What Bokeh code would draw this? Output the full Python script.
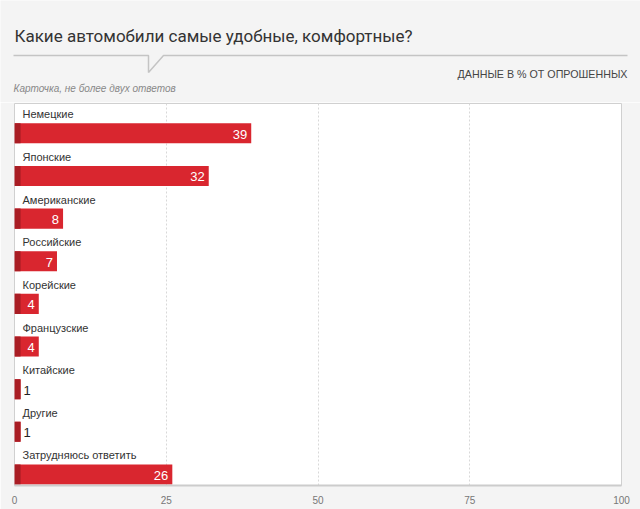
from bokeh.plotting import figure
from bokeh.models import Range1d, FixedTicker, ColumnDataSource
from bokeh.layouts import column
from bokeh.core.properties import value
from bokeh.embed import file_html
from bokeh.resources import INLINE

# ---- data ----
title_text = "Какие автомобили самые удобные, комфортные?"
unit_text = "ДАННЫЕ В % ОТ ОПРОШЕННЫХ"
note_text = "Карточка, не более двух ответов"
categories = ["Немецкие", "Японские", "Американские", "Российские", "Корейские",
              "Французские", "Китайские", "Другие", "Затрудняюсь ответить"]
values = [39, 32, 8, 7, 4, 4, 1, 1, 26]
x_ticks = [0, 25, 50, 75, 100]

BG = "#f4f4f4"
RED = "#d9262f"
DARK = "#a91d24"
FONT = "Liberation Sans, Arial, sans-serif"

W = 640
HH = 102
BL, BR = 14, 19

# ---- header (data coords == page pixels) ----
h = figure(width=W, height=HH, x_range=Range1d(0, W), y_range=Range1d(HH, 0),
           x_axis_type=None, y_axis_type=None, toolbar_location=None,
           output_backend="svg", min_border=0, outline_line_color=None,
           background_fill_color=BG, border_fill_color=BG, frame_align=False)
h.grid.visible = False
h.text(x=[14], y=[35], text=[title_text], text_baseline="middle", text_align="left",
       text_font=value("Roboto, sans-serif"),
       text_font_size="17px", text_color="#333333")
h.line(x=[13, 148, 148, 163, 627], y=[55, 55, 72, 55, 55], line_color="#c4c4c4", line_width=1.5)
h.text(x=[627], y=[73], text=[unit_text], text_baseline="middle", text_align="right",
       text_font=value(FONT), text_font_size="10.7px", text_color="#444444")
h.text(x=[13], y=[88], text=[note_text], text_baseline="middle", text_align="left",
       text_font=value(FONT), text_font_size="10px", text_font_style="italic",
       text_color="#888888")

# ---- chart ----
n = len(categories)
ys = [i + 0.7 for i in range(n)]
dark_right = [min(v, 1) for v in values]
inside = [v >= 2 for v in values]
src = ColumnDataSource(dict(y=ys, v=values, d=dark_right, cat=categories))
src_in = ColumnDataSource(dict(y=[y for y, f in zip(ys, inside) if f],
                               v=[v for v, f in zip(values, inside) if f],
                               lab=[str(v) for v, f in zip(values, inside) if f]))
src_out = ColumnDataSource(dict(y=[y for y, f in zip(ys, inside) if not f],
                                v=[v for v, f in zip(values, inside) if not f],
                                lab=[str(v) for v, f in zip(values, inside) if not f]))

p = figure(width=W, height=509 - HH, x_range=Range1d(0, 100), y_range=Range1d(8.96, 0),
           toolbar_location=None, output_backend="svg",
           min_border_left=BL, min_border_right=BR, min_border_top=1, min_border_bottom=24,
           background_fill_color="white", border_fill_color=BG,
           outline_line_color="#d0d0d0", outline_line_width=1, frame_align=False)
p.yaxis.visible = False
p.ygrid.visible = False
p.xaxis.ticker = FixedTicker(ticks=x_ticks)
p.xgrid.ticker = FixedTicker(ticks=x_ticks)
p.xgrid.grid_line_color = "#d8d8d8"
p.xgrid.grid_line_dash = "2 2"
p.xaxis.axis_line_color = "#cccccc"
p.xaxis.axis_line_width = 2
p.xaxis.major_tick_line_color = None
p.xaxis.minor_tick_line_color = None
p.xaxis.major_label_standoff = 4
p.xaxis.major_label_text_font = FONT
p.xaxis.major_label_text_font_size = "10px"
p.xaxis.major_label_text_color = "#777777"

p.hbar(y="y", left=0, right="v", height=0.47, source=src, fill_color=RED, line_color=None)
p.hbar(y="y", left=0, right="d", height=0.47, source=src, fill_color=DARK, line_color=None)

p.text(x=0, y="y", text="cat", source=src, x_offset=8, y_offset=-19,
       text_baseline="middle", text_align="left", text_font=value(FONT),
       text_font_size="11px", text_color="#333333")
p.text(x="v", y="y", text="lab", source=src_in, x_offset=-4, y_offset=1,
       text_baseline="middle", text_align="right", text_font=value(FONT),
       text_font_size="13px", text_color="white")
p.text(x="v", y="y", text="lab", source=src_out, x_offset=3, y_offset=1,
       text_baseline="middle", text_align="left", text_font=value(FONT),
       text_font_size="13px", text_color="#222222")

layout = column(h, p, spacing=0)
open("out.html", "w").write(file_html(layout, INLINE))
